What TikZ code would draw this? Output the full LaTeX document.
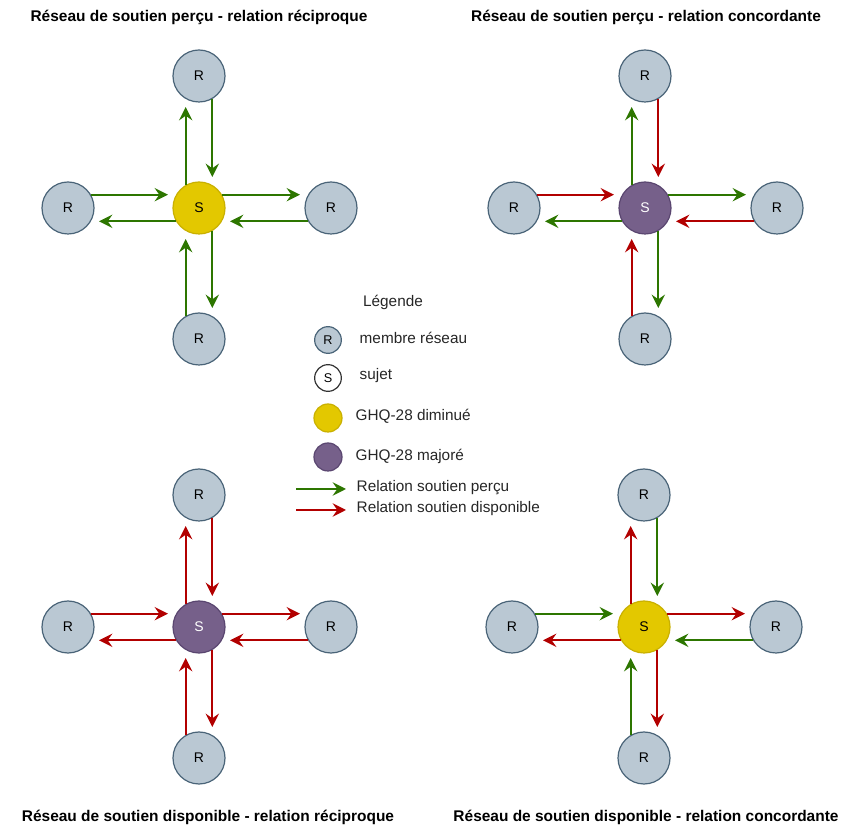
\documentclass[tikz,border=0pt]{standalone}
\usepackage{fontspec}
\setmainfont{Liberation Sans}
\usetikzlibrary{arrows.meta}

\definecolor{cMembre}{HTML}{BAC8D3}
\definecolor{cMembreBord}{HTML}{4A6478}
\definecolor{cDiminue}{HTML}{E3C800}
\definecolor{cDiminueBord}{HTML}{C9B000}
\definecolor{cMajore}{HTML}{76608A}
\definecolor{cMajoreBord}{HTML}{5A4670}
\definecolor{cPercu}{HTML}{2D7600}
\definecolor{cDispo}{HTML}{B20000}

\tikzset{
  membre/.style={circle,draw=cMembreBord,fill=cMembre,line width=0.9pt,minimum size=39pt,inner sep=0pt,font=\fontsize{10.5}{12}\selectfont},
  sujetjaune/.style={membre,draw=cDiminueBord,fill=cDiminue},
  sujetviolet/.style={membre,draw=cMajoreBord,fill=cMajore,text=white},
  lienpercu/.style={draw=cPercu,line width=1.5pt,-{Stealth[length=10pt,width=10pt,inset=3.5pt]},shorten >=6pt},
  liendispo/.style={lienpercu,draw=cDispo},
  titre/.style={font=\bfseries\fontsize{11.6}{13}\selectfont},
  legende/.style={font=\fontsize{11.5}{13}\selectfont,anchor=west,text=black!85},
  puce/.style={membre,minimum size=20pt,font=\fontsize{9.5}{10}\selectfont}
}

\begin{document}
\begin{tikzpicture}[x=0.75pt,y=-0.75pt]
\useasboundingbox (0,0) rectangle (844,830);

% titles
	\node[titre] (t1) at (199,17) {Réseau de soutien perçu - relation réciproque};
	\node[titre] (t2) at (646,17) {Réseau de soutien perçu - relation concordante};
	\node[titre] (t3) at (208,817) {Réseau de soutien disponible - relation réciproque};
	\node[titre] (t4) at (646,817) {Réseau de soutien disponible - relation concordante};

% soutien perçu - réciproque
	\node[sujetjaune] (s1) at (199,208) {S};
	\node[membre] (r1n) at (199,76) {R};
	\node[membre] (r1e) at (331,208) {R};
	\node[membre] (r1s) at (199,339) {R};
	\node[membre] (r1w) at (68,208) {R};

	\draw[lienpercu] (s1.120) -- (r1n.240);
	\draw[lienpercu] (r1n.300) -- (s1.60);
	\draw[lienpercu] (s1.30) -- (r1e.150);
	\draw[lienpercu] (r1e.210) -- (s1.330);
	\draw[lienpercu] (s1.300) -- (r1s.60);
	\draw[lienpercu] (r1s.120) -- (s1.240);
	\draw[lienpercu] (r1w.30) -- (s1.150);
	\draw[lienpercu] (s1.210) -- (r1w.330);

% soutien perçu - concordante
	\node[sujetviolet] (s2) at (645,208) {S};
	\node[membre] (r2n) at (645,76) {R};
	\node[membre] (r2e) at (777,208) {R};
	\node[membre] (r2s) at (645,339) {R};
	\node[membre] (r2w) at (514,208) {R};

	\draw[lienpercu] (s2.120) -- (r2n.240);
	\draw[liendispo] (r2n.300) -- (s2.60);
	\draw[lienpercu] (s2.30) -- (r2e.150);
	\draw[liendispo] (r2e.210) -- (s2.330);
	\draw[lienpercu] (s2.300) -- (r2s.60);
	\draw[liendispo] (r2s.120) -- (s2.240);
	\draw[liendispo] (r2w.30) -- (s2.150);
	\draw[lienpercu] (s2.210) -- (r2w.330);

% soutien disponible - réciproque
	\node[sujetviolet] (s3) at (199,627) {S};
	\node[membre] (r3n) at (199,495) {R};
	\node[membre] (r3e) at (331,627) {R};
	\node[membre] (r3s) at (199,758) {R};
	\node[membre] (r3w) at (68,627) {R};

	\draw[liendispo] (s3.120) -- (r3n.240);
	\draw[liendispo] (r3n.300) -- (s3.60);
	\draw[liendispo] (s3.30) -- (r3e.150);
	\draw[liendispo] (r3e.210) -- (s3.330);
	\draw[liendispo] (s3.300) -- (r3s.60);
	\draw[liendispo] (r3s.120) -- (s3.240);
	\draw[liendispo] (r3w.30) -- (s3.150);
	\draw[liendispo] (s3.210) -- (r3w.330);

% soutien disponible - concordante
	\node[sujetjaune] (s4) at (644,627) {S};
	\node[membre] (r4n) at (644,495) {R};
	\node[membre] (r4e) at (776,627) {R};
	\node[membre] (r4s) at (644,758) {R};
	\node[membre] (r4w) at (512,627) {R};

	\draw[liendispo] (s4.120) -- (r4n.240);
	\draw[lienpercu] (r4n.300) -- (s4.60);
	\draw[liendispo] (s4.30) -- (r4e.150);
	\draw[lienpercu] (r4e.210) -- (s4.330);
	\draw[liendispo] (s4.300) -- (r4s.60);
	\draw[lienpercu] (r4s.120) -- (s4.240);
	\draw[lienpercu] (r4w.30) -- (s4.150);
	\draw[liendispo] (s4.210) -- (r4w.330);

% legend
	\node[legende,anchor=center] (leg) at (393,302) {Légende};
	\node[puce] (pr) at (328,340) {R};
	\node[legende] (lr) at (355,338) {membre réseau};
	\node[puce,draw=black!80,fill=white] (ps) at (328,378) {S};
	\node[legende] (ls) at (355,376) {sujet};
	\node[puce,draw=cDiminueBord,fill=cDiminue,minimum size=21pt] (pj) at (328,418) {};
	\node[legende] (lj) at (351,416) {GHQ-28 diminué};
	\node[puce,draw=cMajoreBord,fill=cMajore,minimum size=21pt] (pv) at (328,457) {};
	\node[legende] (lv) at (351,456) {GHQ-28 majoré};
	\coordinate (pa0) at (296,489);
	\coordinate (pa1) at (346,489);
	\draw[lienpercu,shorten >=0pt] (pa0) -- (pa1);
	\node[legende] (lp) at (352,488) {Relation soutien perçu};
	\coordinate (da0) at (296,510);
	\coordinate (da1) at (346,510);
	\draw[liendispo,shorten >=0pt] (da0) -- (da1);
	\node[legende] (ld) at (352,509) {Relation soutien disponible};
\end{tikzpicture}
\end{document}
